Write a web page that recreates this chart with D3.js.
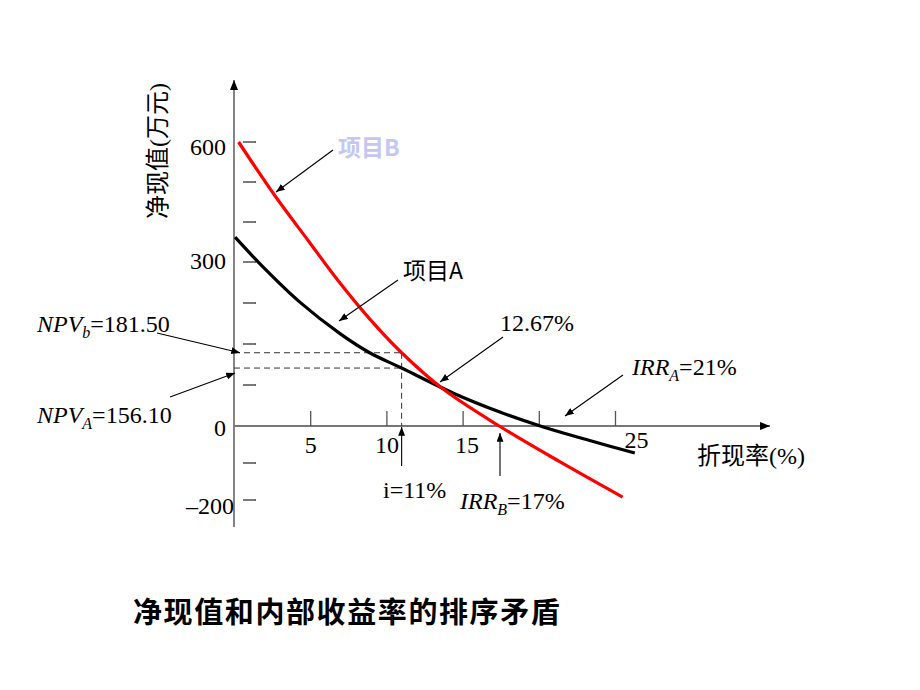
<!DOCTYPE html>
<html><head><meta charset="utf-8">
<script src="https://cdn.jsdelivr.net/npm/d3@7/dist/d3.min.js"></script>
<style>
body{margin:0;background:#fff;}
text{font-family:"Liberation Serif","Noto Sans CJK SC",serif;}
.cjk{font-family:"Noto Sans CJK SC",sans-serif;}
</style></head>
<body><svg id="c" width="920" height="690"></svg>
<script>
// ---- data ----
const rateA = [0.07, 1.9, 4.3, 7.0, 8.9, 11, 14.4, 17.4, 20.1, 23.4, 26.3];
const npvA  = [362, 291, 227, 168, 134, 106, 60, 26, 0, -40, -73];
const rateB = [0.3, 2.7, 4.9, 6.8, 8.9, 11, 13.7, 17.4, 21.4, 25.5];
const npvB  = [600, 465, 352, 267, 196, 134, 68, 0, -97, -192];
const xTickValues = [5, 10, 15, 20, 25];
const xTickLabels = ["5", "10", "15", "", "25"];
const yLabelValues = [600, 300, 0, -200];
const yLabelTexts = ["600", "300", "0", "\u2013200"];
const yMinorTicks = [600, 500, 400, 300, 225, 150, 75, -100, -200];
const discountRate = 11;

const svg = d3.select("#c");
const x = d3.scaleLinear().domain([0, 25]).range([234, 615]);
const y = d3.scaleLinear().domain([-200, 0, 300, 600]).range([500, 426, 262, 142]);

const defs = svg.append("defs");
defs.append("marker").attr("id","ah").attr("viewBox","0 0 10 8").attr("refX",10).attr("refY",4)
  .attr("markerWidth",9).attr("markerHeight",7).attr("markerUnits","userSpaceOnUse").attr("orient","auto")
  .append("path").attr("d","M0,0L10,4L0,8z").attr("fill","#000");
defs.append("marker").attr("id","axh").attr("viewBox","0 0 10 8").attr("refX",10).attr("refY",4)
  .attr("markerWidth",11).attr("markerHeight",8).attr("markerUnits","userSpaceOnUse").attr("orient","auto")
  .append("path").attr("d","M0,0L10,4L0,8z").attr("fill","#000");

// axes lines
const axisColor = "#777";
svg.append("line").attr("x1",x(0)).attr("y1",527).attr("x2",x(0)).attr("y2",80)
  .attr("stroke",axisColor).attr("stroke-width",1.8).attr("marker-end","url(#axh)");
svg.append("line").attr("x1",x(0)).attr("y1",y(0)).attr("x2",770).attr("y2",y(0))
  .attr("stroke",axisColor).attr("stroke-width",1.8).attr("marker-end","url(#axh)");

// x ticks (upward) with labels below
const xAxis = d3.axisBottom(x).tickValues(xTickValues)
  .tickFormat((d,i) => xTickLabels[i]).tickSizeInner(-15).tickSizeOuter(0).tickPadding(22);
const gx = svg.append("g").attr("transform",`translate(0,${y(0)})`).call(xAxis);
gx.select(".domain").remove();
gx.selectAll(".tick line").attr("stroke","#555").attr("stroke-width",1.3);
gx.selectAll(".tick text").attr("font-size",24).attr("fill","#000")
  .attr("font-family","Liberation Serif").attr("dy","0.2em")
  .attr("dx", d => d === 25 ? 21 : (d === 15 ? 4 : 0))
  .attr("transform", d => d === 25 ? "translate(0,-5)" : null);

// y labels
const yAxis = d3.axisLeft(y).tickValues(yLabelValues)
  .tickFormat((d,i) => yLabelTexts[i]).tickSize(0).tickPadding(8);
const gy = svg.append("g").attr("transform",`translate(${x(0)},0)`).call(yAxis);
gy.select(".domain").remove();
gy.selectAll(".tick text").attr("font-size",24).attr("fill","#000")
  .attr("font-family","Liberation Serif")
  .attr("dy", d => d === 600 ? "0.5em" : (d === 300 ? "0.25em" : (d === 0 ? "0.4em" : "0.55em")))
  .attr("dx", d => d === -200 ? 8 : 0);

// y minor dashes
svg.append("g").selectAll("line").data(yMinorTicks).join("line")
  .attr("x1",243).attr("x2",256).attr("y1",d=>y(d)).attr("y2",d=>y(d))
  .attr("stroke","#333").attr("stroke-width",1.3);

// dashed guides at discount rate
const vA = npvA[rateA.indexOf(discountRate)];
const vB = npvB[rateB.indexOf(discountRate)];
const dash = svg.append("g").attr("stroke","#333").attr("stroke-width",1).attr("stroke-dasharray","6,4").attr("fill","none");
dash.append("line").attr("x1",x(0)).attr("x2",x(discountRate)).attr("y1",y(vB)).attr("y2",y(vB));
dash.append("line").attr("x1",x(0)).attr("x2",x(discountRate)).attr("y1",y(vA)).attr("y2",y(vA));
dash.append("line").attr("x1",x(discountRate)).attr("x2",x(discountRate)).attr("y1",y(vB)).attr("y2",y(0));

// curves
const line = d3.line().x(d=>x(d[0])).y(d=>y(d[1])).curve(d3.curveCatmullRom.alpha(0.5));
svg.append("path").datum(rateA.map((r,i)=>[r,npvA[i]])).attr("d",line)
  .attr("fill","none").attr("stroke","#000").attr("stroke-width",3.2);
svg.append("path").datum(rateB.map((r,i)=>[r,npvB[i]])).attr("d",line)
  .attr("fill","none").attr("stroke","#ff0000").attr("stroke-width",3.2);

// annotation arrows
function arrow(x1,y1,x2,y2){
  svg.append("line").attr("x1",x1).attr("y1",y1).attr("x2",x2).attr("y2",y2)
    .attr("stroke","#000").attr("stroke-width",1.1).attr("marker-end","url(#ah)");
}
arrow(333,150,276,192);
arrow(398,280,339,321);
arrow(503,337,440,382);
arrow(623,375,565,416);
arrow(157,333,x(0)+6,y(vB));
arrow(170,397,x(0)+1,y(vA)+5);
arrow(x(discountRate),466,x(discountRate),y(0)+1);
arrow(500,476,500,y(0)+7);

// texts
svg.append("text").attr("class","cjk").attr("x",338).attr("y",156).attr("font-size",23)
  .attr("font-weight","bold").attr("fill","#c5c7f3").text("项目B");
svg.append("text").attr("class","cjk").attr("x",403).attr("y",279).attr("font-size",23)
  .attr("fill","#000").text("项目A");
svg.append("text").attr("x",500).attr("y",331).attr("font-size",24).text("12.67%");

const irrA = svg.append("text").attr("x",632).attr("y",375).attr("font-size",24);
irrA.append("tspan").attr("font-style","italic").text("IRR");
irrA.append("tspan").attr("font-style","italic").attr("font-size",16).attr("dy",6).text("A");
irrA.append("tspan").attr("dy",-6).text("=21%");

const npvb = svg.append("text").attr("x",37).attr("y",332).attr("font-size",24);
npvb.append("tspan").attr("font-style","italic").text("NPV");
npvb.append("tspan").attr("font-style","italic").attr("font-size",16).attr("dy",6).text("b");
npvb.append("tspan").attr("dy",-6).text("=181.50");

const npva = svg.append("text").attr("x",37).attr("y",423).attr("font-size",24);
npva.append("tspan").attr("font-style","italic").text("NPV");
npva.append("tspan").attr("font-style","italic").attr("font-size",16).attr("dy",6).text("A");
npva.append("tspan").attr("dy",-6).text("=156.10");

svg.append("text").attr("x",383).attr("y",498).attr("font-size",24).text("i=11%");

const irrB = svg.append("text").attr("x",460).attr("y",509).attr("font-size",24);
irrB.append("tspan").attr("font-style","italic").text("IRR");
irrB.append("tspan").attr("font-style","italic").attr("font-size",16).attr("dy",6).text("B");
irrB.append("tspan").attr("dy",-6).text("=17%");

svg.append("text").attr("x",697).attr("y",464).attr("font-size",24).text("折现率(%)");

svg.append("text").attr("transform","translate(158,151) rotate(-90)")
  .attr("text-anchor","middle").attr("dominant-baseline","central")
  .attr("font-size",24).text("净现值(万元)");

svg.append("text").attr("class","cjk").attr("x",133).attr("y",623).attr("font-size",29)
  .attr("font-weight","bold").attr("letter-spacing",1.6).text("净现值和内部收益率的排序矛盾");
</script></body></html>
